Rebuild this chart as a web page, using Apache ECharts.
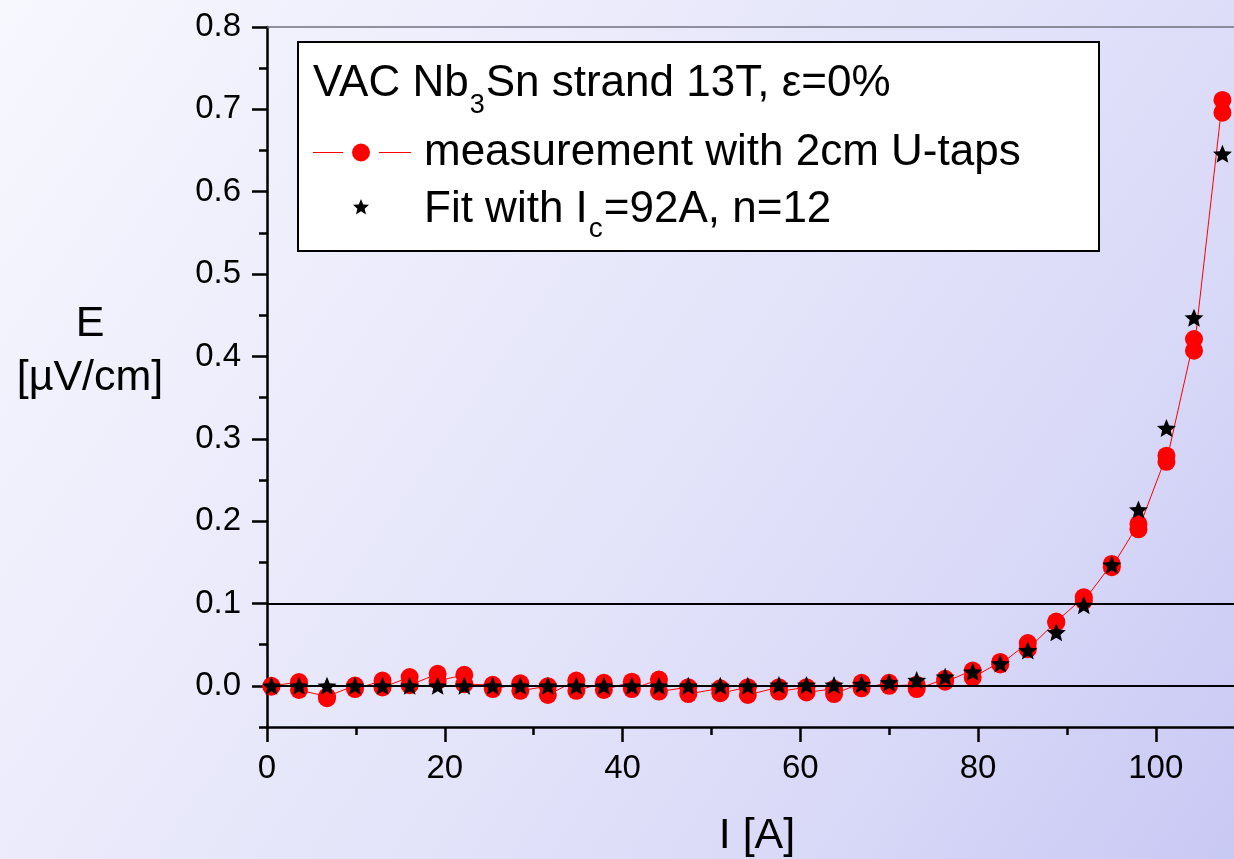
<!DOCTYPE html>
<html>
<head>
<meta charset="utf-8">
<title>E(I) characteristic</title>
<script src="https://cdn.jsdelivr.net/npm/echarts@6/dist/echarts.min.js"></script>
<style>
  html, body { margin: 0; padding: 0; }
  #chart { width: 1234px; height: 859px; }
</style>
</head>
<body>
<div id="chart"></div>
<script>
// Current steps of the sweep [A]
const currents = [0.5, 3.6, 6.75, 9.9, 13.0, 16.05, 19.2, 22.2, 25.4, 28.5, 31.6, 34.8, 37.9, 41.05, 44.1,
  47.4, 51.0, 54.1, 57.6, 60.7, 63.8, 66.9, 70.0, 73.1, 76.3, 79.4, 82.5, 85.6, 88.8, 91.9, 95.05, 98.05,
  101.2, 104.3, 107.5];
// Two electric-field readings taken at every current step [µV/cm]
const measFirst = [0.000, 0.0045, -0.013, 0.0004, 0.0064, 0.0106, 0.0146, 0.0133, 0.0012, 0.003, -0.0004,
  0.0064, 0.0036, 0.005, 0.0076, -0.0016, -0.003, -0.0016, -0.0016, -0.0016, -0.0036, 0.0036, 0.0036,
  0.0012, 0.0085, 0.0186, 0.029, 0.052, 0.078, 0.1076, 0.148, 0.1966, 0.2795, 0.421, 0.7115];
const measSecond = [-0.001, -0.005, -0.015, -0.004, -0.002, 0.0008, 0.006, 0.002, -0.004, -0.006, -0.011,
  -0.006, -0.005, -0.004, -0.007, -0.010, -0.009, -0.011, -0.007, -0.008, -0.010, -0.003, 0.000,
  -0.004, 0.005, 0.010, 0.026, 0.0445, 0.077, 0.103, 0.144, 0.190, 0.272, 0.407, 0.696];
// Power-law fit (Ic = 92 A, n = 12) at the same currents [µV/cm]
const fitE = [0, 0, 0, 0, 0, 0, 0, 0, 0, 0, 0, 0, 0, 0, 0, 0, 0, 0,
  0.001, 0.001, 0.001, 0.002, 0.004, 0.007, 0.011, 0.017, 0.027, 0.043, 0.065, 0.098, 0.147, 0.214,
  0.313, 0.447, 0.646];
// Axis ticks
const xMajorTicks = [0, 20, 40, 60, 80, 100];
const xMinorTicks = [10, 30, 50, 70, 90];
const yMajorTicks = [0, 0.1, 0.2, 0.3, 0.4, 0.5, 0.6, 0.7, 0.8];
const yMinorTicks = [-0.05, 0.05, 0.15, 0.25, 0.35, 0.45, 0.55, 0.65, 0.75];
// Horizontal reference levels
const refLevels = [0, 0.1];

const FONT = '"Liberation Sans", Arial, sans-serif';
const RED = '#ff0000';
const LEG = 44;

const measureCtx = document.createElement('canvas').getContext('2d');
function textWidth(s, size) {
  measureCtx.font = size + 'px ' + FONT;
  return measureCtx.measureText(s).width;
}
function label(s, x, baseline, size, align) {
  return {
    type: 'text', x: x, y: baseline - 0.33 * size, z: 50,
    style: {
      text: s, font: size + 'px ' + FONT, fill: '#000',
      align: align || 'left', textAlign: align || 'left',
      verticalAlign: 'middle', textVerticalAlign: 'middle'
    }
  };
}
function starPoints(cx, cy, R, ratio) {
  const pts = [];
  for (let i = 0; i < 10; i++) {
    const r = i % 2 === 0 ? R : R * ratio;
    const a = -Math.PI / 2 + i * Math.PI / 5;
    pts.push([cx + r * Math.cos(a), cy + r * Math.sin(a)]);
  }
  return pts;
}
const starSymbol = 'path://' + starPoints(50, 50, 50, 0.45)
  .map((p, i) => (i ? 'L' : 'M') + p[0].toFixed(2) + ',' + p[1].toFixed(2)).join(' ') + ' Z';

// Measurement polyline: both readings of each step, in order
const measData = [];
currents.forEach((c, i) => {
  measData.push([c, measFirst[i]]);
  measData.push([c, measSecond[i]]);
});
const fitData = currents.map((c, i) => [c, fitE[i]]);

// Legend box pieces
const legendGraphics = [];
legendGraphics.push({
  type: 'rect', shape: { x: 298, y: 42, width: 801, height: 209 }, z: 40,
  style: { fill: '#ffffff', stroke: '#000', lineWidth: 2 }
});
(function () {
  let x = 313;
  const a = 'VAC Nb', b = '3', c = 'Sn strand 13T, ε=0%';
  legendGraphics.push(label(a, x, 98, LEG));
  x += textWidth(a, LEG) + 1;
  legendGraphics.push(label(b, x, 114, 27));
  x += textWidth(b, 27) + 1;
  legendGraphics.push(label(c, x, 98, LEG));
})();
legendGraphics.push({ type: 'line', z: 45, shape: { x1: 313, y1: 152.5, x2: 343, y2: 152.5 }, style: { stroke: RED, lineWidth: 1 } });
legendGraphics.push({ type: 'line', z: 45, shape: { x1: 379, y1: 152.5, x2: 411, y2: 152.5 }, style: { stroke: RED, lineWidth: 1 } });
legendGraphics.push({ type: 'circle', z: 45, shape: { cx: 361, cy: 152.5, r: 9 }, style: { fill: RED } });
legendGraphics.push(label('measurement with 2cm U-taps', 424, 167, LEG));
legendGraphics.push({ type: 'polygon', z: 45, shape: { points: starPoints(361, 207.5, 8.5, 0.45) }, style: { fill: '#000' } });
(function () {
  let x = 424;
  const a = 'Fit with I', b = 'c', c = '=92A, n=12';
  legendGraphics.push(label(a, x, 224, LEG));
  x += textWidth(a, LEG) + 1;
  legendGraphics.push(label(b, x, 239, 28));
  x += textWidth(b, 28) + 1;
  legendGraphics.push(label(c, x, 224, LEG));
})();

// Axis titles
const titleGraphics = [
  label('E', 90, 338, 43, 'center'),
  label('[µV/cm]', 90, 392, 43, 'center'),
  label('I [A]', 757, 850, 43, 'center')
];

const axisBlack = { color: '#000', width: 2.5 };
const X_MAX = 108.8;

const option = {
  backgroundColor: new echarts.graphic.LinearGradient(0, 0, 1, 1, [
    { offset: 0, color: '#f7f7fe' },
    { offset: 0.5, color: '#e5e5fa' },
    { offset: 0.76, color: '#d9d9f8' },
    { offset: 1, color: '#c8c8f4' }
  ]),
  animation: false,
  grid: { left: 267, top: 27, right: 0, bottom: 132, show: false },
  xAxis: [
    {
      type: 'value', min: 0, max: X_MAX, position: 'bottom',
      axisLine: { show: true, onZero: false, lineStyle: axisBlack },
      axisTick: { show: true, length: 15, lineStyle: axisBlack, customValues: xMajorTicks },
      axisLabel: { show: true, customValues: xMajorTicks, margin: 25, color: '#000', fontSize: 33, fontFamily: FONT },
      splitLine: { show: false }
    },
    {
      type: 'value', min: 0, max: X_MAX, position: 'bottom',
      axisLine: { show: false, onZero: false },
      axisTick: { show: true, length: 8, lineStyle: axisBlack, customValues: xMinorTicks },
      axisLabel: { show: false },
      splitLine: { show: false }
    },
    {
      // plain top frame line
      type: 'value', min: 0, max: X_MAX, position: 'top',
      axisLine: { show: true, onZero: false, lineStyle: { color: '#707080', width: 1.5 } },
      axisTick: { show: false },
      axisLabel: { show: false },
      splitLine: { show: false }
    }
  ],
  yAxis: [
    {
      type: 'value', min: -0.05, max: 0.8, position: 'left',
      axisLine: { show: true, onZero: false, lineStyle: axisBlack },
      axisTick: { show: true, length: 15, lineStyle: axisBlack, customValues: yMajorTicks },
      axisLabel: {
        show: true, customValues: yMajorTicks, margin: 26, color: '#000', fontSize: 33, fontFamily: FONT,
        formatter: v => v.toFixed(1)
      },
      splitLine: { show: false }
    },
    {
      type: 'value', min: -0.05, max: 0.8, position: 'left',
      axisLine: { show: false, onZero: false },
      axisTick: { show: true, length: 8, lineStyle: axisBlack, customValues: yMinorTicks },
      axisLabel: { show: false },
      splitLine: { show: false }
    }
  ],
  series: [
    {
      name: 'measurement with 2cm U-taps',
      type: 'line', xAxisIndex: 0, yAxisIndex: 0,
      data: measData,
      symbol: 'circle', symbolSize: 18,
      itemStyle: { color: RED, opacity: 1 },
      lineStyle: { color: RED, width: 1 },
      z: 2,
      markLine: {
        silent: true, symbol: ['none', 'none'], label: { show: false },
        lineStyle: { color: '#000', width: 2, type: 'solid' },
        data: refLevels.map(v => ({ yAxis: v }))
      }
    },
    {
      name: 'Fit with Ic=92A, n=12',
      type: 'scatter', xAxisIndex: 0, yAxisIndex: 0,
      data: fitData,
      symbol: starSymbol, symbolKeepAspect: true, symbolSize: 19,
      itemStyle: { color: '#000', opacity: 1 },
      z: 3
    }
  ],
  graphic: { elements: legendGraphics.concat(titleGraphics) }
};

const chart = echarts.init(document.getElementById('chart'));
chart.setOption(option);
</script>
</body>
</html>
